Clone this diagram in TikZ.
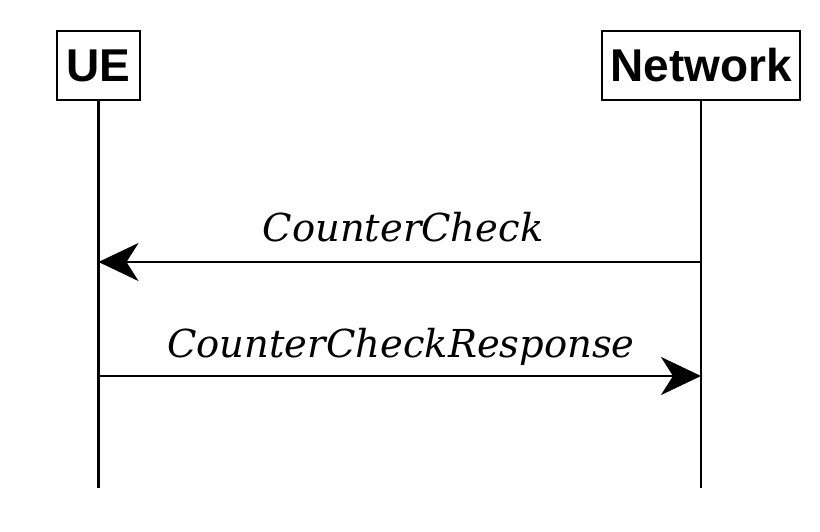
\documentclass[tikz,border=0pt]{standalone}
\usepackage{fontspec}
\setmainfont{Liberation Sans}
\newfontfamily\msgfont{DejaVu Serif}
\usetikzlibrary{arrows.meta}
\begin{document}
\begin{tikzpicture}[x=1pt,y=-1pt,
  entity/.style={draw,line width=2.7pt,inner sep=0pt,font=\fontsize{46}{50}\selectfont\bfseries,fill=white},
  life/.style={line width=2.7pt},
  msg/.style={line width=2.7pt,-{Stealth[length=40pt,width=38pt,inset=12pt]}},
  msglabel/.style={font=\fontsize{38.5}{42}\selectfont\msgfont\itshape,anchor=base}]
\useasboundingbox (0,0) rectangle (820,531);
\node[entity,minimum width=83pt,minimum height=69pt] (ue) at (98.5,65.5) {UE};
\node[entity,minimum width=198pt,minimum height=69pt] (nw) at (701,65.5) {Network};
\coordinate (ueend) at (98.5,488);
\coordinate (nwend) at (701,488);
\draw[life] (ue.south) -- (ueend);
\draw[life] (nw.south) -- (nwend);
\coordinate (ue1) at (98.5,262);
\coordinate (nw1) at (701,262);
\coordinate (ue2) at (98.5,376);
\coordinate (nw2) at (701,376);
\draw[msg] (nw1) -- (ue1);
\draw[msg] (ue2) -- (nw2);
\node[msglabel] (l1) at (403,241) {CounterCheck};
\node[msglabel] (l2) at (401,357) {CounterCheckResponse};
\end{tikzpicture}
\end{document}
